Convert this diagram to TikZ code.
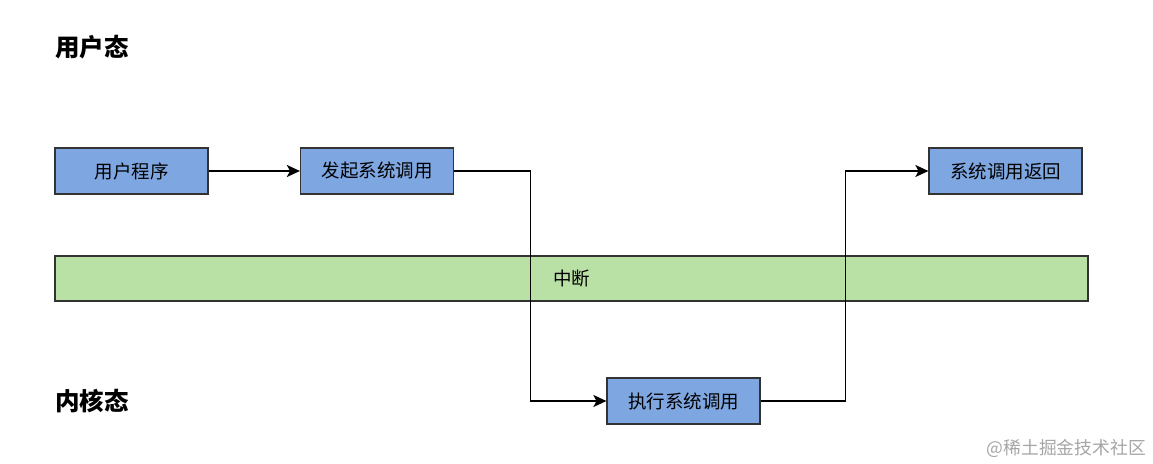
\documentclass[tikz,border=0pt]{standalone}
\usepackage{fontspec}
\newfontfamily\cjk{Noto Sans CJK SC}
\usepackage{xcolor}
\usepackage{tikz}
\usetikzlibrary{arrows.meta, positioning}

\definecolor{boxblue}{HTML}{7EA6E0}
\definecolor{bandgreen}{HTML}{B9E0A5}
\definecolor{edgegray}{HTML}{333333}

\tikzset{
  stage/.style={draw=edgegray, fill=boxblue, line width=1.2pt,
    minimum width=153pt, minimum height=46pt, inner sep=0pt,
    font=\cjk\fontsize{18.5}{20}\selectfont},
  band/.style={draw=edgegray, fill=bandgreen, line width=1.2pt,
    minimum width=1033pt, minimum height=45pt, inner sep=0pt,
    font=\cjk\fontsize{18.5}{20}\selectfont},
  level/.style={anchor=west, inner sep=0pt,
    font=\cjk\bfseries\fontsize{24.5}{27}\selectfont},
  flow/.style={-{Stealth[length=13pt,width=12pt,inset=3pt]}, line width=1.2pt, draw=black}
}

\begin{document}
\begin{tikzpicture}[x=1pt,y=-1pt,>=Stealth]
    \useasboundingbox[fill=white] (0,0) rectangle (1153,463);

    % privilege levels
    \node[level] (userlvl) at (55,47) {用户态};
    \node[level] (kernlvl) at (55,401) {内核态};

    % interrupt band
    \node[band] (irq) at (571.5,278.5) {中断};

    % stages
    \node[stage] (prog) at (131.5,171) {用户程序};
    \node[stage] (call) at (377,171) {发起系统调用};
    \node[stage] (exec) at (683.5,401) {执行系统调用};
    \node[stage] (ret) at (1005.5,171) {系统调用返回};

    % flow
    \draw[flow] (prog) -- (call);
    \draw[flow] (call.east) -- ++(76,0) |- (exec.west);
    \draw[flow] (exec.east) -- ++(85,0) |- (ret.west);

    % source mark
    \node[anchor=east, inner sep=0pt, text=black!35,
          font=\cjk\fontsize{17.8}{20}\selectfont] (src) at (1146,448) {@稀土掘金技术社区};
  \end{tikzpicture}
\end{document}
